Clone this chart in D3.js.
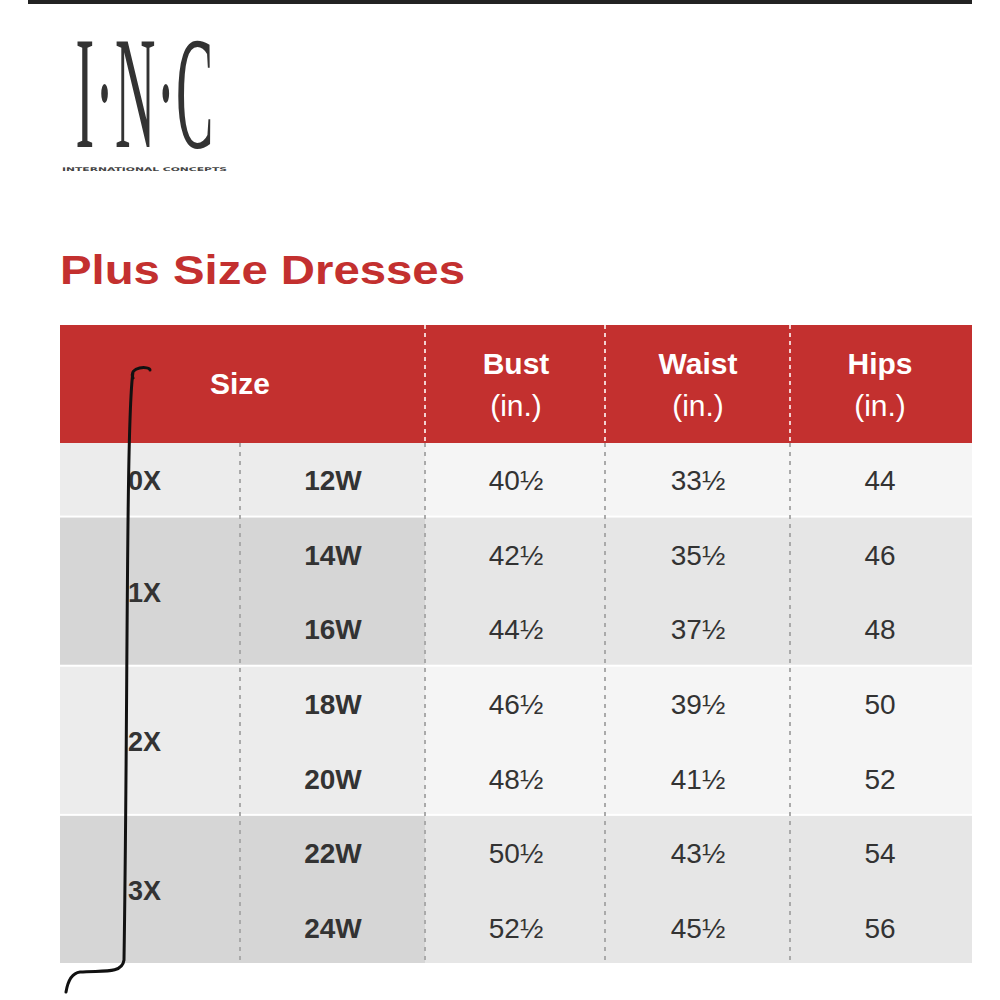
<!DOCTYPE html>
<html><head><meta charset="utf-8">
<script src="https://cdn.jsdelivr.net/npm/d3@7"></script>
<style>body{margin:0;background:#fff}</style></head>
<body><svg id="c" width="1000" height="1000"></svg>
<script>
const groups = ["0X","1X","2X","3X"];
const groupSpans = [1,2,2,2];
const sizes = ["12W","14W","16W","18W","20W","22W","24W"];
const bust = ["40½","42½","44½","46½","48½","50½","52½"];
const waist = ["33½","35½","37½","39½","41½","43½","45½"];
const hips = ["44","46","48","50","52","54","56"];
const headers = [["Size"],["Bust","(in.)"],["Waist","(in.)"],["Hips","(in.)"]];

const svg = d3.select("#c");
const red = "#c3302f";
const y = d3.scaleLinear().domain([0,7]).range([443,965]);
const rowH = y(1)-y(0);

svg.append("rect").attr("x",28).attr("y",0).attr("width",944).attr("height",4).attr("fill","#222");
// logo
svg.append("text").attr("x",145).attr("y",147).attr("text-anchor","middle")
  .attr("font-family","Liberation Serif, serif").attr("font-size",160).attr("fill","#333")
  .attr("transform","translate(145,147) scale(0.35,1) translate(-145,-147)")
  .attr("letter-spacing",3).text("I·N·C");
svg.append("text").attr("x",62).attr("y",171).attr("font-family","DejaVu Sans").attr("font-weight","bold")
  .attr("font-size",5).attr("fill","#444").attr("textLength",165).attr("lengthAdjust","spacingAndGlyphs").text("INTERNATIONAL CONCEPTS");
// title
svg.append("text").attr("x",60).attr("y",284).attr("font-family","Liberation Sans, Arial").attr("font-weight","bold")
  .attr("font-size",41).attr("fill",red).attr("textLength",405).attr("lengthAdjust","spacingAndGlyphs").text("Plus Size Dresses");
// header
svg.append("rect").attr("x",60).attr("y",325).attr("width",912).attr("height",118).attr("fill",red);
const hx = [240,516,698,880];
headers.forEach((h,i)=>{
  const t = svg.append("text").attr("text-anchor","middle").attr("fill","#fff")
    .attr("font-family","Liberation Sans, Arial").attr("font-size",30);
  if(h.length===1){ t.attr("x",hx[i]).attr("y",394).attr("font-weight","bold").text(h[0]); }
  else {
    t.append("tspan").attr("x",hx[i]).attr("y",374).attr("font-weight","bold").text(h[0]);
    t.append("tspan").attr("x",hx[i]).attr("y",416).text(h[1]);
  }
});
[425,605,790].forEach(x=>svg.append("line").attr("x1",x).attr("x2",x).attr("y1",325).attr("y2",443)
  .attr("stroke","#f3d0d0").attr("stroke-width",2).attr("stroke-dasharray","4,4"));
// body
let r = 0;
groups.forEach((g,gi)=>{
  const n = groupSpans[gi];
  const dark = gi%2===1;
  const y0 = y(r), y1 = y(r+n);
  svg.append("rect").attr("x",60).attr("y",y0).attr("width",365).attr("height",y1-y0-2)
    .attr("fill",dark?"#d6d6d6":"#ececec");
  svg.append("rect").attr("x",425).attr("y",y0).attr("width",547).attr("height",y1-y0-2)
    .attr("fill",dark?"#e6e6e6":"#f5f5f5");
  svg.append("text").attr("x",128).attr("y",(y0+y1)/2+10).attr("font-family","Liberation Sans, Arial")
    .attr("font-weight","bold").attr("font-size",27).attr("fill","#333").text(g);
  r += n;
});
sizes.forEach((s,i)=>{
  const cy = y(i)+rowH/2+10;
  const cells = [[333,s,true],[516,bust[i]],[698,waist[i]],[880,hips[i]]];
  cells.forEach(([x,t,b])=>svg.append("text").attr("x",x).attr("y",cy).attr("text-anchor","middle")
    .attr("font-family","Liberation Sans, Arial").attr("font-weight",b?"bold":"normal")
    .attr("font-size",28).attr("fill","#333").text(t));
});
[240,425,605,790].forEach(x=>svg.append("line").attr("x1",x).attr("x2",x).attr("y1",443).attr("y2",965)
  .attr("stroke","#aaa").attr("stroke-width",2).attr("stroke-dasharray","4,5"));
// hand-drawn bracket
svg.append("path").attr("d","M133,378 C128,366 150,366 150,370 M133,372 C126,420 128,700 124,960 C122,975 100,970 80,972 C72,973 68,980 66,992")
  .attr("fill","none").attr("stroke","#111").attr("stroke-width",3).attr("stroke-linecap","round");
</script></body></html>
